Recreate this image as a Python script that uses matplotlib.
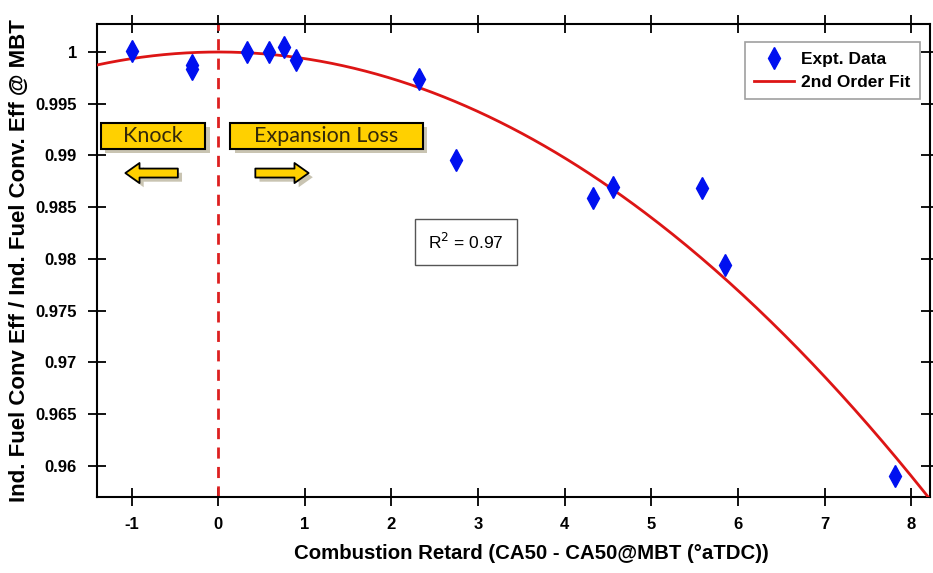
import numpy as np
import matplotlib
matplotlib.use('Agg')
import matplotlib.pyplot as plt
from matplotlib.patches import Rectangle
import matplotlib.patheffects as pe

retard = [-1.0, -0.3, -0.3, 0.33, 0.58, 0.76, 0.9, 2.32, 2.74, 4.33, 4.56, 5.59, 5.85, 7.81]
eff_ratio = [1.0001, 0.9987, 0.9984, 1.0000, 1.0000, 1.0005, 0.9992, 0.9974, 0.9896,
             0.9859, 0.9870, 0.9869, 0.9794, 0.9590]

# 2nd order fit coefficients (a*x^2 + b*x + c)
fit_coeffs = [-0.00064, 0.0, 1.0]
r_squared = 0.97

x_ticks = [-1, 0, 1, 2, 3, 4, 5, 6, 7, 8]
y_ticks = [0.96, 0.965, 0.97, 0.975, 0.98, 0.985, 0.99, 0.995, 1.0]

plt.rcParams['axes.unicode_minus'] = False
plt.rcParams['font.family'] = ['Liberation Sans', 'DejaVu Sans']


def main():
    fig = plt.figure(figsize=(9.33, 5.73), dpi=100)
    ax = fig.add_axes([0.104, 0.1326, 0.893, 0.8254])

    xfit = np.linspace(-1.4, 8.25, 300)
    yfit = np.polyval(fit_coeffs, xfit)
    ax.plot(xfit, yfit, color='#dd1515', lw=2, label='2nd Order Fit', zorder=3)
    ax.plot(retard, eff_ratio, 'd', color='#0010f0', markersize=11, label='Expt. Data',
            zorder=4, linestyle='none')
    ax.axvline(0, color='#dd2020', lw=2, ls=(0, (4, 3)), zorder=2)

    ax.set_xlim(-1.4, 8.22)
    ax.set_ylim(0.957, 1.0027)
    ax.set_xticks(x_ticks)
    ax.set_yticks(y_ticks)
    ax.set_xticklabels([str(v) for v in x_ticks])
    ax.set_yticklabels(['%g' % v for v in y_ticks])
    ax.tick_params(direction='inout', length=13, width=1.3, top=True, right=True,
                   labelsize=12, pad=8)
    for lab in ax.get_xticklabels() + ax.get_yticklabels():
        lab.set_fontweight('bold')
    for s in ax.spines.values():
        s.set_linewidth(1.5)

    ax.set_xlabel('Combustion Retard (CA50 - CA50@MBT (°aTDC))', fontsize=14.7,
                  fontweight='bold')
    ax.xaxis.set_label_coords(0.521, -0.1)
    ax.set_ylabel('Ind. Fuel Conv Eff / Ind. Fuel Conv. Eff @ MBT', fontsize=16,
                  fontweight='bold', labelpad=4)

    # yellow labels
    shadow = [pe.SimplePatchShadow(offset=(3, -3), alpha=0.3), pe.Normal()]
    for (x0, x1, txt) in [(0.005, 0.130, 'Knock'), (0.160, 0.391, 'Expansion Loss')]:
        r = Rectangle((x0, 0.736), x1 - x0, 0.055, transform=ax.transAxes,
                      facecolor='#ffd000', edgecolor='black', lw=1.5, zorder=5)
        r.set_path_effects(shadow)
        ax.add_patch(r)
        ax.text((x0 + x1) / 2, 0.7625, txt, transform=ax.transAxes, ha='center',
                va='center', fontsize=15.5, color='#33280a',
                family=['Lato', 'DejaVu Sans'], zorder=6)

    for (xs, xe) in [(0.097, 0.034), (0.190, 0.254)]:
        ax.annotate('', xy=(xe, 0.685), xytext=(xs, 0.685), xycoords='axes fraction',
                    arrowprops=dict(arrowstyle='simple,head_width=0.85,head_length=0.6,tail_width=0.38',
                                    fc='#ffd000', ec='black', lw=1.3, mutation_scale=17,
                                    shrinkA=0, shrinkB=0,
                                    path_effects=shadow), zorder=6)

    ax.text(0.443, 0.539, 'R$^2$ = %g' % r_squared, transform=ax.transAxes, ha='center',
            va='center', fontsize=12.5,
            bbox=dict(boxstyle='square,pad=0.75', fc='white', ec='#555555', lw=1))

    leg = ax.legend(handles=ax.get_lines()[1::-1], loc='upper right',
                    bbox_to_anchor=(0.988, 0.962), borderaxespad=0, fancybox=False,
                    edgecolor='#888888', prop={'weight': 'bold', 'size': 12.5},
                    handlelength=2.3, handletextpad=0.4, borderpad=0.55,
                    labelspacing=0.45)
    leg.get_frame().set_linewidth(1.2)

    fig.savefig('out.png', dpi=100)


if __name__ == '__main__':
    main()
